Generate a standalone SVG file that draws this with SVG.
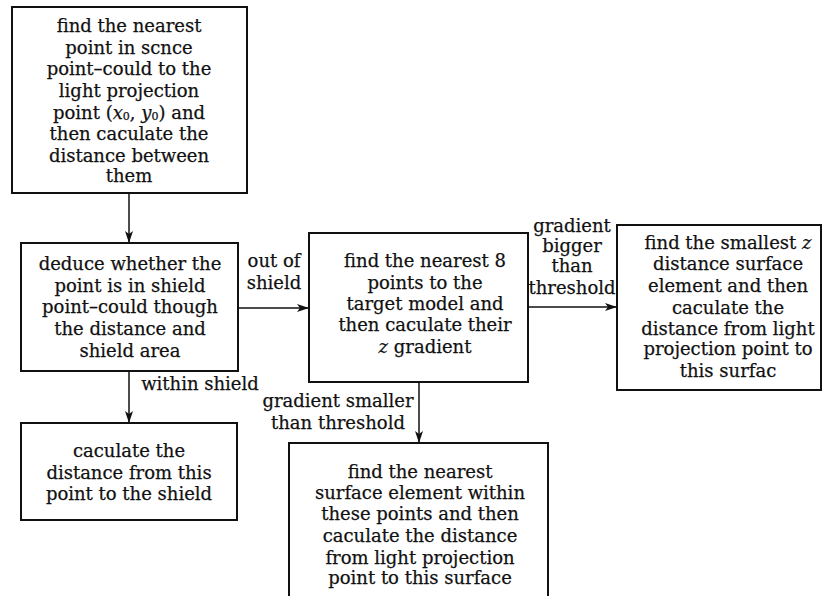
<svg xmlns="http://www.w3.org/2000/svg" width="823" height="596" viewBox="0 0 823 596">
<defs>
<marker id="ah" markerWidth="12" markerHeight="8" refX="11" refY="4" orient="auto" markerUnits="userSpaceOnUse">
<path d="M0,0 L12,4 L0,8 L3,4 Z" fill="#111"/>
</marker>
</defs>
<style>
rect{fill:#fff;stroke:#111;stroke-width:2}
text{font-family:"DejaVu Serif","Liberation Serif",serif;font-size:18px;fill:#111;stroke:#111;stroke-width:0.25;text-anchor:middle;dominant-baseline:central}
.conn line{stroke:#111;stroke-width:1.5;marker-end:url(#ah)}
.i{font-style:italic}
</style>
<rect x="0" y="0" width="823" height="596" style="stroke:none"/>
<g id="n1">
<rect x="12" y="7" width="235" height="186"/>
<text x="129" y="25">find the nearest</text>
<text x="129" y="47">point in scnce</text>
<text x="129" y="68">point–could to the</text>
<text x="129" y="90">light projection</text>
<text x="129" y="112">point (<tspan class="i">x</tspan><tspan font-size="11" dy="4">0</tspan><tspan dy="-4">, </tspan><tspan class="i">y</tspan><tspan font-size="11" dy="4">0</tspan><tspan dy="-4">) and</tspan></text>
<text x="129" y="133">then caculate the</text>
<text x="129" y="155">distance between</text>
<text x="129" y="175">them</text>
</g>
<g id="n2">
<rect x="21" y="243" width="217" height="128"/>
<text x="130" y="263">deduce whether the</text>
<text x="130" y="285">point is in shield</text>
<text x="130" y="306">point–could though</text>
<text x="130" y="328">the distance and</text>
<text x="130" y="350">shield area</text>
</g>
<g id="n3">
<rect x="309" y="233" width="219" height="149"/>
<text x="425" y="260">find the nearest 8</text>
<text x="425" y="282">points to the</text>
<text x="425" y="303">target model and</text>
<text x="425" y="324">then caculate their</text>
<text x="425" y="346"><tspan class="i">z</tspan> gradient</text>
</g>
<g id="n4">
<rect x="617" y="225" width="204" height="165"/>
<text x="728" y="242">find the smallest <tspan class="i">z</tspan></text>
<text x="728" y="263">distance surface</text>
<text x="728" y="285">element and then</text>
<text x="728" y="307">caculate the</text>
<text x="728" y="328">distance from light</text>
<text x="728" y="348">projection point to</text>
<text x="728" y="370">this surfac</text>
</g>
<g id="n5">
<rect x="21" y="423" width="216" height="97"/>
<text x="129" y="450">caculate the</text>
<text x="129" y="472">distance from this</text>
<text x="129" y="493">point to the shield</text>
</g>
<g id="n6">
<rect x="289" y="443" width="259" height="160"/>
<text x="420" y="471">find the nearest</text>
<text x="420" y="492">surface element within</text>
<text x="420" y="513">these points and then</text>
<text x="420" y="535">caculate the distance</text>
<text x="420" y="557">from light projection</text>
<text x="420" y="577">point to this surface</text>
</g>
<g class="conn">
<line x1="129" y1="193" x2="129" y2="242"/>
<line x1="238" y1="308" x2="308" y2="308"/>
<line x1="528" y1="307" x2="616" y2="307"/>
<line x1="129" y1="371" x2="129" y2="422"/>
<line x1="419" y1="382" x2="419" y2="442"/>
</g>
<g id="labels">
<text x="274" y="260">out of</text>
<text x="274" y="282">shield</text>
<text x="572" y="225">gradient</text>
<text x="572" y="245">bigger</text>
<text x="572" y="265">than</text>
<text x="572" y="287">threshold</text>
<text x="200" y="383">within shield</text>
<text x="338" y="400">gradient smaller</text>
<text x="338" y="422">than threshold</text>
</g>
</svg>
